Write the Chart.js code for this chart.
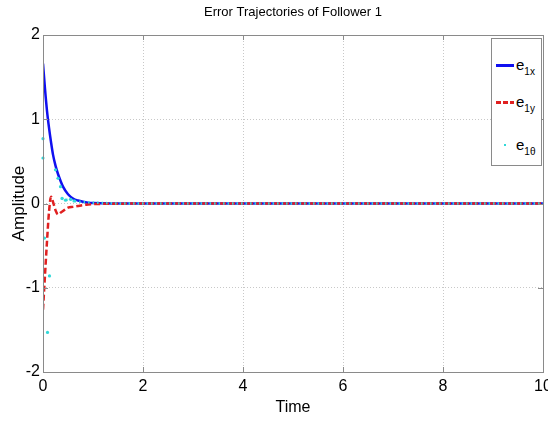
<!DOCTYPE html>
<html>
<head>
<meta charset="utf-8">
<script src="https://cdn.jsdelivr.net/npm/chart.js@4.4.1/dist/chart.umd.min.js"></script>
<style>
  html, body { margin: 0; padding: 0; background: #fff; }
  #wrap { position: relative; width: 548px; height: 421px; overflow: hidden; }
  #legend { position: absolute; left: 491px; top: 38px; width: 51px; height: 128px;
            border: 1px solid #8a8a8a; background: #fff; box-sizing: border-box;
            font-family: 'Liberation Sans', Arial, sans-serif; color: #000; }
  .item { position: absolute; left: 0; width: 50px; height: 20px; }
  .lab { position: absolute; left: 24px; top: 0; font-size: 15px; line-height: 20px; white-space: nowrap; }
  .lab sub { font-size: 10px; vertical-align: -5px; }
  .sw { position: absolute; }
</style>
</head>
<body>
<div id="wrap">
  <canvas id="c" width="548" height="421"></canvas>
  <div id="legend">
    <div class="item" style="top:16px">
      <div class="sw" style="left:4px; top:9px; width:18px; height:2.5px; background:#1010f0"></div>
      <div class="lab">e<sub>1x</sub></div>
    </div>
    <div class="item" style="top:53px">
      <div class="sw" style="left:4px; top:9px; width:5px; height:2.5px; background:#e02020"></div>
      <div class="sw" style="left:11px; top:9px; width:5px; height:2.5px; background:#e02020"></div>
      <div class="sw" style="left:18px; top:9px; width:4px; height:2.5px; background:#e02020"></div>
      <div class="lab">e<sub>1y</sub></div>
    </div>
    <div class="item" style="top:96px">
      <div class="sw" style="left:12px; top:9px; width:2px; height:2px; background:#30d8d8"></div>
      <div class="lab">e<sub>1θ</sub></div>
    </div>
  </div>
</div>
<script>
// ---- data ----
const titleText = 'Error Trajectories of Follower 1';
const xLabel = 'Time';
const yLabel = 'Amplitude';
const xTicks = [0, 2, 4, 6, 8, 10];
const yTicks = [-2, -1, 0, 1, 2];
const yTickLabels = ['-2', '-1', '0', '1', '2'];

const time = [0, 0.04, 0.08, 0.12, 0.16, 0.2, 0.25, 0.3, 0.35, 0.4, 0.5, 0.6, 0.7, 0.8, 0.9, 1.0, 1.2, 1.5, 2, 3, 4, 5, 6, 7, 8, 9, 10];
const e1x  = [1.66, 1.36, 1.1, 0.9, 0.73, 0.58, 0.45, 0.35, 0.27, 0.2, 0.11, 0.06, 0.035, 0.02, 0.01, 0.005, 0.002, 0, 0, 0, 0, 0, 0, 0, 0, 0, 0];
const e1y  = [-1.26, -0.85, -0.45, -0.1, 0.08, 0.02, -0.08, -0.13, -0.11, -0.09, -0.05, -0.04, -0.03, -0.02, -0.012, -0.008, -0.004, -0.002, 0, 0, 0, 0, 0, 0, 0, 0, 0];

const thetaTime = [0, 0, 0.03, 0.09, 0.13, 0.25, 0.3, 0.35, 0.38, 0.45, 0.55, 0.62, 0.75, 1, 1.5, 2, 3, 4, 5, 6, 7, 8, 9, 10];
const e1theta   = [0.77, 0.54, -0.41, -1.53, -0.86, 0.4, 0.3, 0.2, 0.06, 0.04, 0.05, 0.03, 0.02, 0.01, 0, 0, 0, 0, 0, 0, 0, 0, 0, 0];

const toXY = (xs, ys) => xs.map((x, i) => ({ x: x, y: ys[i] }));

const FONT = "'Liberation Sans', Arial, sans-serif";

const boxPlugin = {
  id: 'box',
  beforeDraw(chart) {
    const ctx = chart.ctx;
    ctx.save();
    ctx.fillStyle = '#fff';
    ctx.fillRect(0, 0, chart.width, chart.height);
    ctx.restore();
  },
  afterDatasetsDraw(chart) {
    const { ctx, chartArea: a, scales } = chart;
    ctx.save();
    ctx.strokeStyle = '#8a8a8a';
    ctx.lineWidth = 1;
    ctx.strokeRect(Math.round(a.left) + 0.5, Math.round(a.top) + 0.5,
                   Math.round(a.right - a.left), Math.round(a.bottom - a.top));
    ctx.beginPath();
    xTicks.forEach(v => {
      const px = Math.round(scales.x.getPixelForValue(v)) + 0.5;
      ctx.moveTo(px, a.bottom); ctx.lineTo(px, a.bottom - 5);
      ctx.moveTo(px, a.top); ctx.lineTo(px, a.top + 5);
    });
    yTicks.forEach(v => {
      const py = Math.round(scales.y.getPixelForValue(v)) + 0.5;
      ctx.moveTo(a.left, py); ctx.lineTo(a.left + 5, py);
      ctx.moveTo(a.right, py); ctx.lineTo(a.right - 5, py);
    });
    ctx.stroke();
    ctx.restore();
  }
};

new Chart(document.getElementById('c'), {
  type: 'line',
  data: {
    datasets: [
      {
        label: 'e1θ',
        data: toXY(thetaTime, e1theta),
        order: 0,
        borderColor: '#30d8d8',
        backgroundColor: '#30d8d8',
        borderWidth: 2.5,
        borderDash: [1.5, 3],
        pointRadius: ctx => (ctx.raw && ctx.raw.x < 0.7 ? 1.6 : 0),
        pointBorderWidth: 0,
        segment: {
          borderColor: ctx => (ctx.p0.parsed.x >= 0.38 ? '#30d8d8' : 'rgba(0,0,0,0)')
        },
        clip: 6,
        tension: 0
      },
      {
        label: 'e1y',
        data: toXY(time, e1y),
        order: 1,
        borderColor: '#e02020',
        borderWidth: 2.5,
        borderDash: [6, 3],
        pointRadius: 0,
        cubicInterpolationMode: 'monotone'
      },
      {
        label: 'e1x',
        data: toXY(time, e1x),
        order: 2,
        borderColor: '#1010f0',
        borderWidth: 2.5,
        pointRadius: 0,
        cubicInterpolationMode: 'monotone'
      }
    ]
  },
  options: {
    responsive: false,
    animation: false,
    layout: { padding: { top: 0, right: 5, bottom: 0, left: 0 } },
    plugins: {
      legend: { display: false },
      tooltip: { enabled: false },
      title: {
        display: true,
        text: titleText,
        fullSize: false,
        color: '#000',
        font: { family: FONT, size: 13, weight: 'normal' },
        padding: { top: 5, bottom: 14.4 }
      }
    },
    scales: {
      x: {
        type: 'linear',
        min: 0, max: 10,
        afterBuildTicks: s => { s.ticks = xTicks.map(v => ({ value: v })); },
        ticks: { color: '#000', padding: 5, font: { family: FONT, size: 16 }, maxRotation: 0 },
        grid: { color: '#c8c8c8', drawTicks: false, lineWidth: 1 },
        border: { display: false, dash: [1, 2] },
        title: { display: true, text: xLabel, color: '#000',
                 font: { family: FONT, size: 16 }, padding: { top: 0, bottom: 4 } },
        afterFit: s => { s.height = 49; s.paddingLeft = 0; s.paddingRight = 0; }
      },
      y: {
        type: 'linear',
        min: -2, max: 2,
        afterBuildTicks: s => { s.ticks = yTicks.map(v => ({ value: v })); },
        ticks: { color: '#000', padding: 3, font: { family: FONT, size: 16 },
                 callback: v => yTickLabels[yTicks.indexOf(v)] },
        grid: { color: '#c8c8c8', drawTicks: false, lineWidth: 1 },
        border: { display: false, dash: [1, 2] },
        title: { display: true, text: yLabel, color: '#000',
                 font: { family: FONT, size: 17 }, padding: { top: 9, bottom: 0 } },
        afterFit: s => { s.width = 43; s.paddingTop = 0; s.paddingBottom = 0; }
      }
    }
  },
  plugins: [boxPlugin]
});
</script>
</body>
</html>
